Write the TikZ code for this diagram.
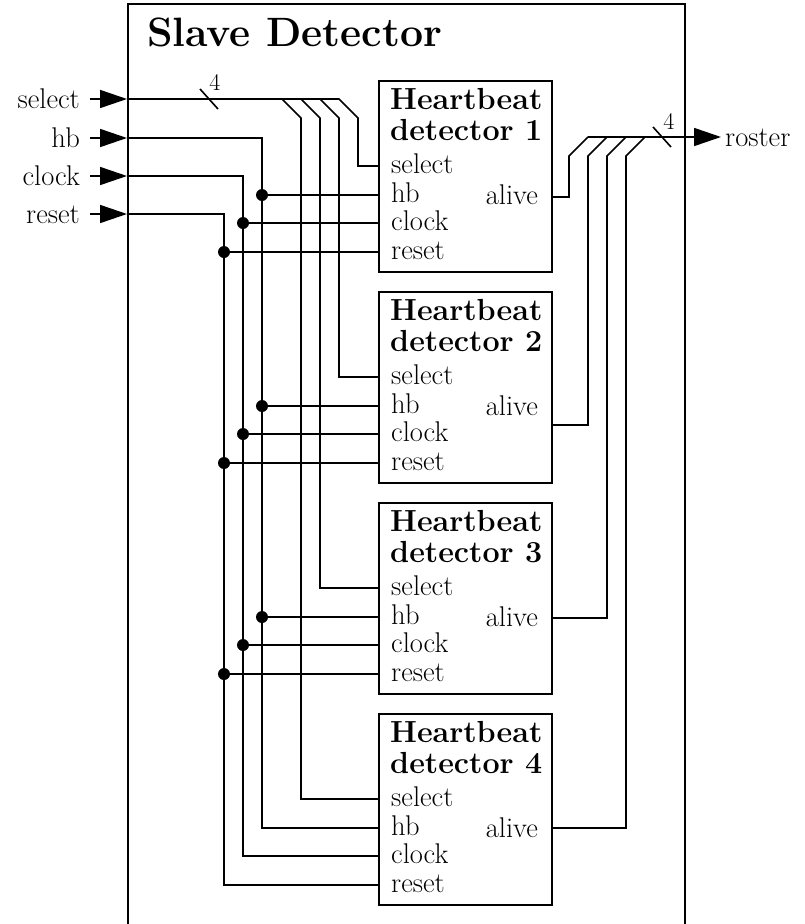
\documentclass[tikz,border=0pt]{standalone}
\usepackage{fontspec}
\usetikzlibrary{arrows.meta, positioning, calc}

\begin{document}
\begin{tikzpicture}[
  x=1pt, y=-1pt,
  font=\fontsize{28.5}{30}\selectfont,
  >={Triangle[length=27pt, width=18pt]},
  wire/.style={line width=1.6pt},
  frame/.style={draw, line width=1.6pt, inner sep=0pt, anchor=north west},
  hbbox/.style={frame, minimum width=173pt, minimum height=191pt},
  hdtitle/.style={font=\fontsize{30.5}{30.5}\selectfont\bfseries, align=center,
                  inner sep=0pt, anchor=north},
  portlabel/.style={inner sep=0pt, anchor=base west},
  inlabel/.style={inner xsep=10pt, inner ysep=0pt, text height=18pt,
                  text depth=0pt, anchor=east},
  junction/.style={circle, fill, inner sep=0pt, minimum size=12pt},
  buswidth/.style={font=\fontsize{24}{26}\selectfont, inner sep=0pt},
  ]
\useasboundingbox (0,0) rectangle (804,924);

% outer block
\node[frame, minimum width=557pt, minimum height=940pt] (slave) at (127,3) {};
\node[anchor=base west, inner sep=0pt, font=\fontsize{41}{46}\selectfont\bfseries]
  (title) at (147,46) {Slave Detector};

% inputs
\foreach \nm/\txt/\y in {sel/select/99, hb/hb/138, clk/clock/176, rst/reset/214} {
  \node[inlabel] (in\nm) at (90,\y) {\txt};
  \coordinate (\nm-in) at (127,\y);
  \draw[wire,->] (in\nm) -- (\nm-in);
}

% detectors
\foreach \i [evaluate=\i as \ytop using {80+211*(\i-1)}] in {1,...,4} {
  \node[hbbox] (det\i) at (378,\ytop) {};
  \node[hdtitle] (head\i) at ($(det\i.north)+(1,8.5)$) {Heartbeat\\detector \i};
  \node[portlabel] (lsel\i) at (391,{\ytop+93}) {select};
  \node[portlabel] (lhb\i)  at (391,{\ytop+122}) {hb};
  \node[portlabel] (lclk\i) at (391,{\ytop+150}) {clock};
  \node[portlabel] (lrst\i) at (391,{\ytop+179}) {reset};
  \node[portlabel, anchor=base east] (lalv\i) at (538,{\ytop+124}) {alive};
  \coordinate (psel\i) at (378,{\ytop+86});
  \coordinate (phb\i)  at (378,{\ytop+115});
  \coordinate (pclk\i) at (378,{\ytop+143});
  \coordinate (prst\i) at (378,{\ytop+172});
}

% select bus
\coordinate (selcut) at (209,99);
\draw[wire] (sel-in) -- (339,99) -- (358,118) |- (psel1);
\foreach \i in {2,3,4}
  \draw[wire] ({358-19*\i},99) -- ++(19,19) |- (psel\i);
\draw[wire] ($(selcut)+(-9,-10)$) -- ($(selcut)+(9,10)$);
\node[buswidth] (selw) at (215,82) {4};

% shared lines
\foreach \nm/\x/\y in {hb/262/138, clk/243/176, rst/224/214} {
  \coordinate (rail\nm) at (\x,\y);
  \draw[wire] (\nm-in) -- (rail\nm) |- (p\nm4);
  \foreach \i in {1,2,3} {
    \node[junction] (j\nm\i) at (rail\nm |- p\nm\i) {};
    \draw[wire] (j\nm\i) -- (p\nm\i);
  }
}

% alive outputs
\foreach \i/\ya in {1/197, 2/425, 3/618, 4/828} {
  \coordinate (palv\i) at (551,\ya);
  \draw[wire] (palv\i) -| ({550+19*\i},156) -- ++(19,-19);
}
\coordinate (ros-bus) at (588,137);
\coordinate (roscut) at (662,137);
\node[anchor=west, inner xsep=4pt, inner ysep=0pt, text height=18pt, text depth=0pt]
  (roster) at (721,137) {roster};
\draw[wire,->] (ros-bus) -- (roster);
\draw[wire] ($(roscut)+(-9,-10)$) -- ($(roscut)+(9,10)$);
\node[buswidth] (rosw) at (669,121) {4};
\end{tikzpicture}
\end{document}
